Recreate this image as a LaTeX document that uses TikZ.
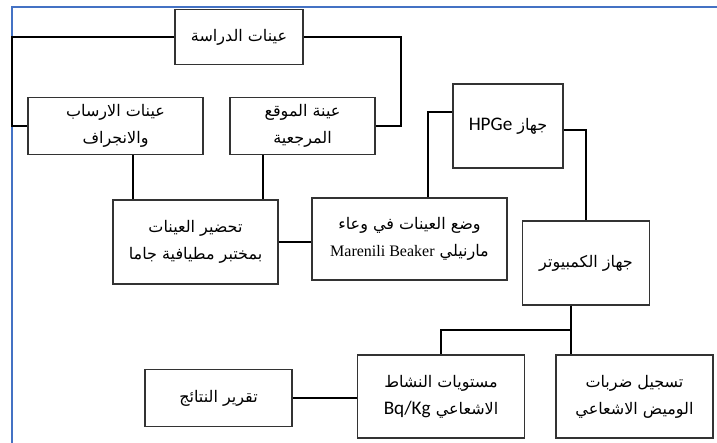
\documentclass[tikz,border=0pt]{standalone}
\usepackage{fontspec}
\setmainfont{Liberation Serif}
\newfontfamily\arabicfont[Script=Arabic]{DejaVu Sans}
\newfontfamily\calibrifont[Scale=1.2]{Carlito}
\TeXXeTstate=1
\usetikzlibrary{positioning, calc}
\definecolor{frameColor}{RGB}{68, 114, 196}
\tikzstyle{block} = [rectangle, text centered, align=center, draw=black!80, line width=1.5pt, inner sep=0pt, font=\fontsize{16}{27}\selectfont]
\tikzstyle{link} = [line width=2pt]
\newcommand{\artext}[1]{{\arabicfont\beginR #1\endR}}

\begin{document}
\begin{tikzpicture}[x=1pt, y=-1pt]
			\useasboundingbox (0,0) rectangle (717,443);
			\draw[frameColor, line width=2.2pt] (717,7) -- (12,7) -- (12,443);
			
			\node (study) [block, minimum width=128pt, minimum height=55pt] at (239,37) {\artext{عينات الدراسة}};
			\node (sed) [block, minimum width=175pt, minimum height=57pt] at (115.5,126) {\artext{عينات الارساب}\\\artext{والانجراف}};
			\node (ref) [block, minimum width=145pt, minimum height=57pt] at (302.5,126) {\artext{عينة الموقع}\\\artext{المرجعية}};
			\node (prep) [block, minimum width=165pt, minimum height=84pt] at (195.5,242) {\artext{تحضير العينات}\\\artext{بمختبر مطيافية جاما}};
			\node (beaker) [block, minimum width=195pt, minimum height=82pt] at (409.5,239) {\artext{وضع العينات في وعاء}\\\artext{مارنيلي \beginL{\rmfamily Marenili Beaker}\endL}};
			\node (hpge) [block, minimum width=110pt, minimum height=84pt] at (508,126) {\artext{جهاز \beginL{\calibrifont HPGe}\endL}};
			\node (pc) [block, minimum width=127pt, minimum height=84pt] at (586,263) {\artext{جهاز الكمبيوتر}};
			\node (act) [block, minimum width=167pt, minimum height=83pt] at (441,396.5) {\artext{مستويات النشاط}\\\artext{الاشعاعي \beginL{\calibrifont Bq/Kg}\endL}};
			\node (count) [block, minimum width=157pt, minimum height=83pt] at (634.5,396.5) {\artext{تسجيل ضربات}\\\artext{الوميض الاشعاعي}};
			\node (report) [block, minimum width=147pt, minimum height=57pt] at (218.5,398) {\artext{تقرير النتائج}};
			
			\draw[link] (study.west) -- ++(-162,0) |- (sed.west);
			\draw[link] (study.east) -- ++(97,0) |- (ref.east);
			\draw[link] ([xshift=17.5pt]sed.south) -- ([xshift=17.5pt]sed.south |- prep.north);
			\draw[link] ([xshift=-39.5pt]ref.south) -- ([xshift=-39.5pt]ref.south |- prep.north);
			\draw[link] (prep.east) -- (prep.east -| beaker.west);
			
			\draw[link] ([xshift=18.5pt]beaker.north) |- ([yshift=14pt]hpge.west);
			\draw[link] ([yshift=-4pt]hpge.east) -| (pc.north);
			
			\draw[link] ([xshift=-15pt]pc.south) -- ++(0,24) -| (act.north);
			\draw[link] ([xshift=-15pt]pc.south) -- ([xshift=-15pt]pc.south |- count.north);
			\draw[link] (report.east) -- (report.east -| act.west);
\end{tikzpicture}
\end{document}
